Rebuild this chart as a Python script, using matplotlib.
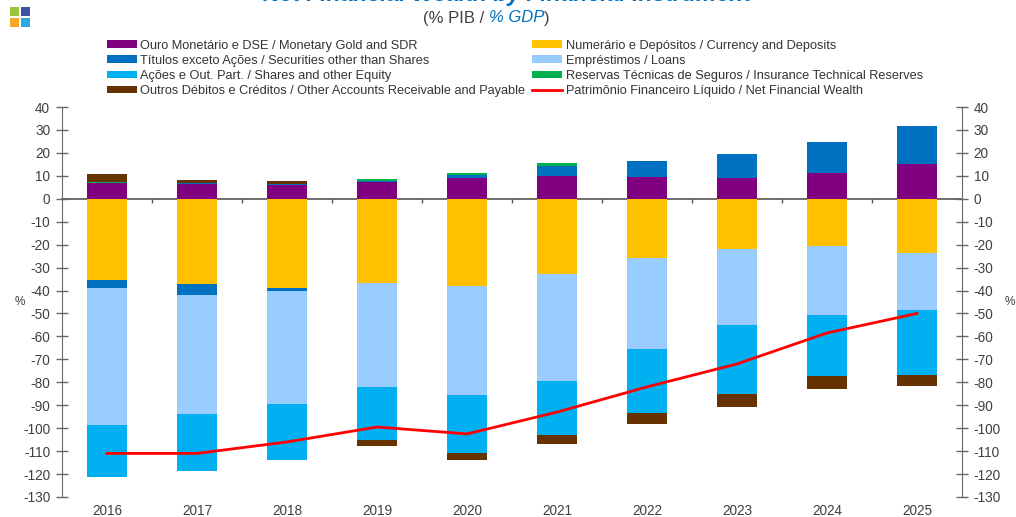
"""
Net financial wealth by financial instrument, % of GDP
"""

import matplotlib

matplotlib.use("Agg")
import matplotlib.pyplot as plt
import numpy as np
from matplotlib.patches import Rectangle

plt.rcParams["font.family"] = ["Liberation Sans", "DejaVu Sans"]
plt.rcParams["axes.unicode_minus"] = False

years = ["2016", "2017", "2018", "2019", "2020", "2021", "2022", "2023", "2024", "2025"]

# assets, stacked upwards from zero
gold_sdr = [7.0, 6.3, 6.2, 7.3, 9.2, 9.9, 9.5, 9.2, 11.2, 15.3]
securities_up = [0.0, 0.5, 0.3, 0.5, 1.2, 4.5, 7.0, 10.3, 13.4, 16.6]
insurance_up = [0.5, 0.0, 0.0, 0.8, 1.0, 1.2, 0.0, 0.0, 0.0, 0.0]
other_up = [3.2, 1.2, 1.2, 0.0, 0.0, 0.0, 0.0, 0.0, 0.0, 0.0]

# liabilities, stacked downwards from zero
currency = [-35.5, -37.0, -39.0, -36.5, -38.0, -33.0, -26.0, -22.0, -20.5, -23.5]
securities_down = [-3.5, -5.0, -1.0, 0.0, 0.0, 0.0, 0.0, 0.0, 0.0, 0.0]
loans = [-59.6, -51.9, -49.3, -45.5, -47.5, -46.5, -39.5, -33.0, -30.1, -24.8]
shares = [-22.7, -24.6, -24.7, -23.3, -25.2, -23.6, -28.0, -30.1, -26.6, -28.5]
other_down = [0.0, 0.0, 0.0, -2.6, -3.3, -3.9, -4.5, -5.8, -5.7, -4.8]

net_wealth = [-111.0, -111.0, -106.0, -99.5, -102.5, -93.0, -82.0, -72.0, -58.5, -50.0]

label_gold = "Ouro Monetário e DSE / Monetary Gold and SDR"
label_securities = "Títulos exceto Ações / Securities other than Shares"
label_shares = "Ações e Out. Part. / Shares and other Equity"
label_other = "Outros Débitos e Créditos / Other Accounts Receivable and Payable"
label_currency = "Numerário e Depósitos / Currency and Deposits"
label_loans = "Empréstimos / Loans"
label_insurance = "Reservas Técnicas de Seguros / Insurance Technical Reserves"
label_net = "Patrimônio Financeiro Líquido / Net Financial Wealth"

C_GOLD = "#800080"
C_SECURITIES = "#0070C0"
C_SHARES = "#00B0F0"
C_OTHER = "#663300"
C_CURRENCY = "#FFC000"
C_LOANS = "#99CCFF"
C_INSURANCE = "#00B050"
C_TEXT = "#404040"
C_AXIS = "#666666"

W, H = 1016, 517


def stack(ax, x, series, colors, width=0.444):
    bottom = np.zeros(len(x))
    bars = []
    for values, color in zip(series, colors):
        values = np.array(values)
        bars.append(ax.bar(x, values, width, bottom=bottom, color=color, zorder=2))
        bottom += values
    return bars


fig = plt.figure(figsize=(W / 100, H / 100), dpi=100)
ax = fig.add_axes([62 / W, 1 - 497 / H, 900 / W, 390 / H])
x = np.arange(len(years))

up = stack(
    ax,
    x,
    [gold_sdr, securities_up, insurance_up, other_up],
    [C_GOLD, C_SECURITIES, C_INSURANCE, C_OTHER],
)
down = stack(
    ax,
    x,
    [currency, securities_down, loans, shares, other_down],
    [C_CURRENCY, C_SECURITIES, C_LOANS, C_SHARES, C_OTHER],
)
(line,) = ax.plot(x, net_wealth, color="#FF0000", linewidth=2.0, zorder=4)

ax.set_xlim(-0.5, len(years) - 0.5)
ax.set_ylim(-130, 40)
yticks = np.arange(-130, 41, 10)
ax.set_yticks(yticks)
ax.set_xticks(x, years)
ax.tick_params(axis="x", length=0, pad=5, labelsize=9.8, labelcolor=C_TEXT)
ax.tick_params(
    axis="y",
    direction="inout",
    length=9,
    width=1,
    color=C_AXIS,
    pad=4,
    labelsize=9.8,
    labelcolor=C_TEXT,
)
for side in ("top", "right", "bottom"):
    ax.spines[side].set_visible(False)
ax.spines["left"].set_color(C_AXIS)

right = ax.twinx()
right.set_ylim(ax.get_ylim())
right.set_yticks(yticks)
right.tick_params(
    axis="y",
    direction="inout",
    length=9,
    width=1,
    color=C_AXIS,
    pad=4,
    labelsize=9.8,
    labelcolor=C_TEXT,
)
for side in ("top", "left", "bottom"):
    right.spines[side].set_visible(False)
right.spines["right"].set_color(C_AXIS)

# category axis sits on the zero line, ticks between the bars
zero_axis = ax.secondary_xaxis(0, transform=ax.transData)
zero_axis.set_xticks(np.arange(0.5, len(years) - 1, 1.0), [""] * (len(years) - 1))
zero_axis.tick_params(direction="out", length=3, width=1, color="#555555")
zero_axis.spines["bottom"].set_color("#555555")
zero_axis.spines["bottom"].set_linewidth(1.2)

fig.legend(
    [up[0][0], up[1][0], down[3][0], down[4][0], down[0][0], down[2][0], up[2][0], line],
    [
        label_gold,
        label_securities,
        label_shares,
        label_other,
        label_currency,
        label_loans,
        label_insurance,
        label_net,
    ],
    ncol=2,
    loc="upper left",
    bbox_to_anchor=(107 / W, 1 - 39.5 / H),
    frameon=False,
    fontsize=9.2,
    labelcolor="#333333",
    borderpad=0,
    borderaxespad=0,
    handlelength=2.35,
    handleheight=0.55,
    handletextpad=0.25,
    labelspacing=0.25,
    columnspacing=0.55,
)

# the title runs off the top edge in the source picture as well
fig.text(
    507 / W,
    1 - (-5) / H,
    "Net Financial Wealth by Financial Instrument",
    ha="center",
    va="center",
    fontsize=16.6,
    fontweight="bold",
    fontstyle="italic",
    color="#0070C0",
)
sub = fig.text(
    423 / W, 1 - 18 / H, "(% PIB / ", ha="left", va="center", fontsize=12, color=C_TEXT
)
sub2 = ax.annotate(
    "% GDP",
    xy=(1, 0),
    xycoords=sub,
    va="bottom",
    fontsize=12,
    fontstyle="italic",
    color="#0070C0",
    annotation_clip=False,
)
ax.annotate(
    ")",
    xy=(1, 0),
    xycoords=sub2,
    va="bottom",
    fontsize=12,
    color=C_TEXT,
    annotation_clip=False,
)
fig.text(20 / W, 1 - 302 / H, "%", ha="center", va="center", fontsize=8.6, color=C_TEXT)
fig.text(1010 / W, 1 - 302 / H, "%", ha="center", va="center", fontsize=8.6, color=C_TEXT)

# logo squares, top left corner
for px, py, color in [
    (10, 7, "#9BC53D"),
    (21, 7, "#3F51A5"),
    (10, 18, "#F9A825"),
    (21, 18, "#29ABE2"),
]:
    fig.add_artist(
        Rectangle(
            (px / W, 1 - (py + 9) / H),
            9 / W,
            9 / H,
            transform=fig.transFigure,
            facecolor=color,
            edgecolor="none",
        )
    )

fig.savefig("out.png", dpi=100)
